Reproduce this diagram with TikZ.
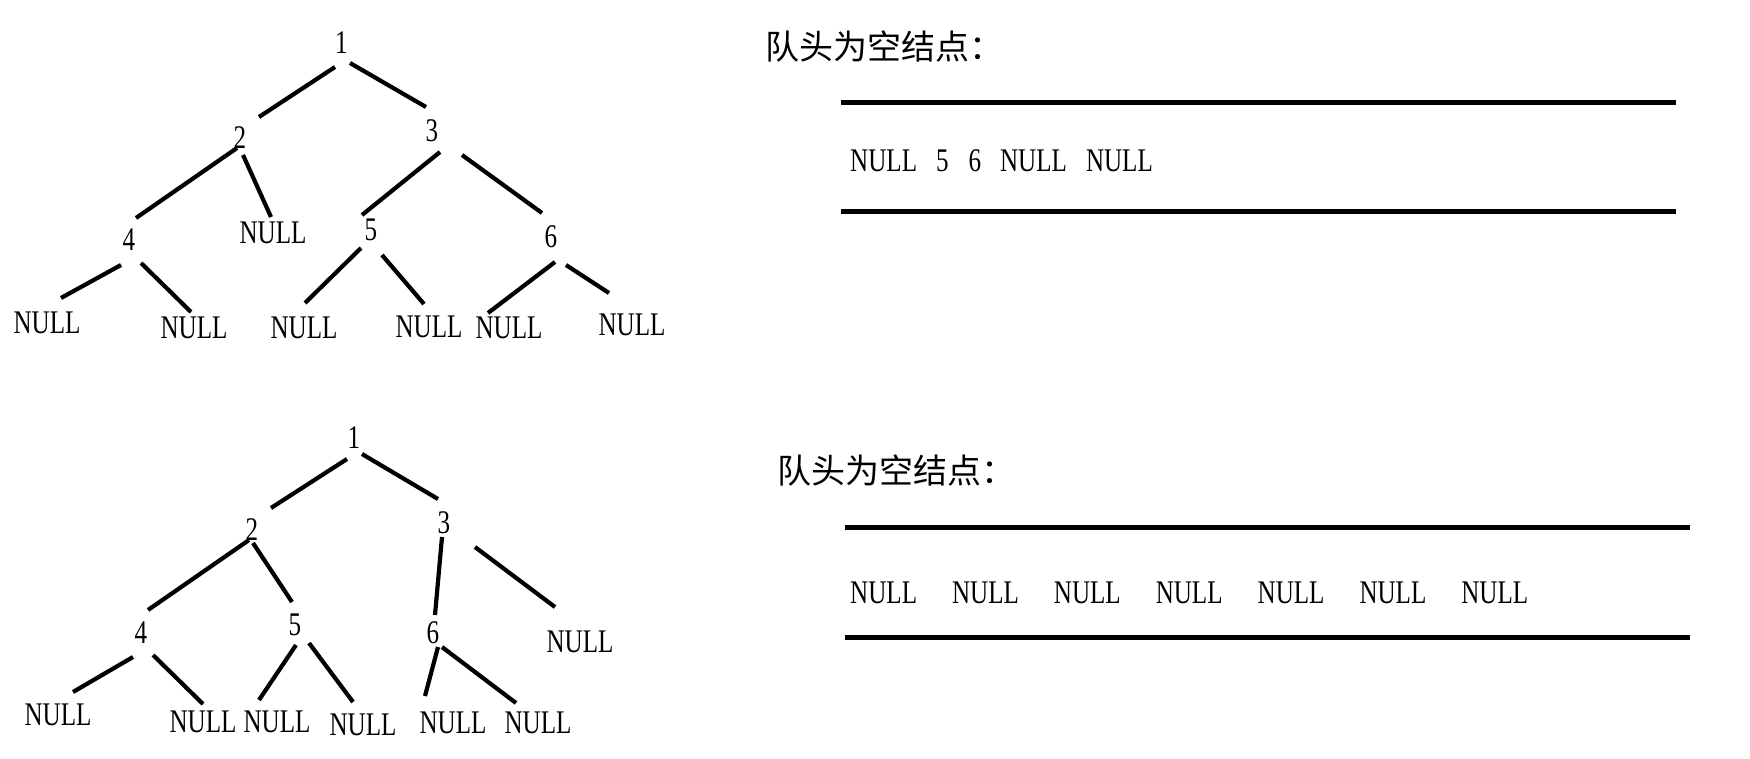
\documentclass[tikz,border=0pt]{standalone}
\usepackage{fontspec}
\setmainfont{Liberation Serif}
\newfontfamily\condfont[FakeStretch=0.76]{Liberation Serif}
\newfontfamily\cjkfont{Noto Sans CJK SC}
\tikzset{
  lbl/.style={font=\condfont\fontsize{33}{33}\selectfont, inner sep=0pt},
  treeedge/.style={line width=4.2pt},
  qline/.style={line width=5pt},
  head/.style={font=\cjkfont\fontsize{34}{34}\selectfont, inner sep=0pt, anchor=west},
}
\newcommand\lnk[4]{\draw[treeedge] ([shift={(#2)}]#1.center) -- ([shift={(#4)}]#3.center);}
\begin{document}
\begin{tikzpicture}[x=1pt,y=-1pt]
\fill[white] (0,0) rectangle (1750,758);
\useasboundingbox (0,0) rectangle (1750,758);
% ---- top tree ----
\node[lbl] (t1) at (341.5,43) {1};
\node[lbl] (t2) at (240,138) {2};
\node[lbl] (t3) at (432,131) {3};
\node[lbl] (t4) at (129,240) {4};
\node[lbl] (tn2) at (273,233) {NULL};
\node[lbl] (t5) at (371,230) {5};
\node[lbl] (t6) at (551,237) {6};
\node[lbl] (tl1) at (47,323) {NULL};
\node[lbl] (tl2) at (194,328) {NULL};
\node[lbl] (tl3) at (304,328) {NULL};
\node[lbl] (tl4) at (429,327) {NULL};
\node[lbl] (tl5) at (509,328) {NULL};
\node[lbl] (tl6) at (632,325) {NULL};
\lnk{t1}{-6.5,24}{t2}{19,-21}
\lnk{t1}{8.5,20}{t3}{-6,-24}
\lnk{t2}{-3,10}{t4}{7,-22}
\lnk{t2}{3,17}{tn2}{-2,-16}
\lnk{t3}{8,21}{t5}{-9,-15}
\lnk{t3}{30,24}{t6}{-9,-24}
\lnk{t4}{-8,25}{tl1}{14,-25}
\lnk{t4}{12,23}{tl2}{-3,-16}
\lnk{t5}{-10,18}{tl3}{1,-25}
\lnk{t5}{11,25}{tl4}{-5,-23}
\lnk{t6}{4,25}{tl5}{-21,-15}
\lnk{t6}{15,28}{tl6}{-23,-32}
% ---- bottom tree ----
\node[lbl] (b1) at (354,438) {1};
\node[lbl] (b2) at (252,530) {2};
\node[lbl] (b3) at (444,523) {3};
\node[lbl] (b4) at (141,633) {4};
\node[lbl] (b5) at (295,625) {5};
\node[lbl] (b6) at (433,633) {6};
\node[lbl] (bn3) at (580,642) {NULL};
\node[lbl] (bl1) at (58,715) {NULL};
\node[lbl] (bl2) at (203,722) {NULL};
\node[lbl] (bl3) at (277,722) {NULL};
\node[lbl] (bl4) at (363,725) {NULL};
\node[lbl] (bl5) at (453,723) {NULL};
\node[lbl] (bl6) at (538,723) {NULL};
\lnk{b1}{-7,21}{b2}{19,-22}
\lnk{b1}{8,16}{b3}{-6,-24}
\lnk{b2}{-3,10}{b4}{7,-23}
\lnk{b2}{1,13}{b5}{-3,-23}
\lnk{b3}{-2,14}{b6}{2,-18}
\lnk{b3}{31,24}{bn3}{-25,-35}
\lnk{b4}{-8,24}{bl1}{15,-23}
\lnk{b4}{12,22}{bl2}{0,-18}
\lnk{b5}{1,20}{bl3}{-18,-22}
\lnk{b5}{14,18}{bl4}{-10,-23}
\lnk{b6}{5,14}{bl5}{-28,-27}
\lnk{b6}{9,14}{bl6}{-22,-20}
% ---- queues ----
\node[head] (h1) at (765,47) {队头为空结点：};
\coordinate (q1a) at (841,102); \coordinate (q1b) at (1676,102);
\coordinate (q1c) at (841,211); \coordinate (q1d) at (1676,211);
\draw[qline] (q1a) -- (q1b);
\draw[qline] (q1c) -- (q1d);
\node[lbl, anchor=west] (r1) at (850,161) {NULL\hspace{19pt}5\hspace{20pt}6\hspace{19pt}NULL\hspace{19pt}NULL};
\node[head] (h2) at (777,471) {队头为空结点：};
\coordinate (q2a) at (845,527); \coordinate (q2b) at (1690,527);
\coordinate (q2c) at (845,637); \coordinate (q2d) at (1690,637);
\draw[qline] (q2a) -- (q2b);
\draw[qline] (q2c) -- (q2d);
\node[lbl, anchor=west] (r2) at (850,593) {NULL\hspace{35pt}NULL\hspace{35pt}NULL\hspace{35pt}NULL\hspace{35pt}NULL\hspace{35pt}NULL\hspace{35pt}NULL};
\end{tikzpicture}
\end{document}
